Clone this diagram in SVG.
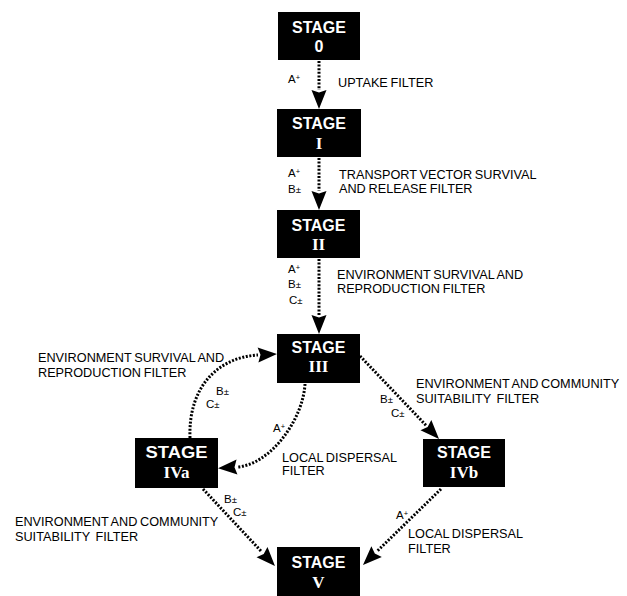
<svg xmlns="http://www.w3.org/2000/svg" width="627" height="596" viewBox="0 0 627 596">
<style>
.box{fill:#000}
.st{font-family:"Liberation Sans",Arial,sans-serif;font-weight:bold;font-size:16px;fill:#fff;text-anchor:middle}
.num{font-family:"Liberation Serif","Times New Roman",serif;font-weight:bold;font-size:17px;fill:#fff;text-anchor:middle}
.numS{font-family:"Liberation Sans",Arial,sans-serif;font-weight:bold;font-size:16px;fill:#fff;text-anchor:middle}
.lbl{font-family:"Liberation Sans",Arial,sans-serif;font-size:12.7px;fill:#000;word-spacing:-0.8px}
.sm{font-family:"Liberation Sans",Arial,sans-serif;font-size:11.5px;fill:#000}
.sup{font-size:7.5px}
.pm{font-size:9.5px}
.con{fill:none;stroke:#000;stroke-width:3;stroke-dasharray:2 1.6;marker-end:url(#ah)}
</style>
<defs>
<marker id="ah" markerUnits="userSpaceOnUse" markerWidth="22" markerHeight="16" refX="0" refY="7.5" orient="auto" overflow="visible">
<path d="M0,0 L19,7.5 L0,15 L2.5,7.5 z" fill="#000"/>
</marker>
</defs>
<rect width="627" height="596" fill="#fff"/>
<g id="connectors">
<path class="con" d="M319,61 L319,90"/>
<path class="con" d="M319,158 L319,191"/>
<path class="con" d="M319,259 L319,315"/>
<path class="con" d="M360,356 L425.9,425.2"/>
<path class="con" d="M441,489 L376.6,551.7"/>
<path class="con" d="M203,489 L262,552.1"/>
<path class="con" d="M305,384 C303,420 270,465 237,467"/>
<path class="con" d="M190,438 C188,385 220,357 258,355"/>
</g>
<g id="stage0">
<rect class="box" x="278" y="12" width="82" height="48"/>
<text class="st" x="319" y="33">STAGE</text>
<text class="numS" x="319" y="52">0</text>
</g>
<g id="stageI">
<rect class="box" x="277" y="109" width="84" height="48"/>
<text class="st" x="319" y="129">STAGE</text>
<text class="num" x="319" y="149">I</text>
</g>
<g id="stageII">
<rect class="box" x="277" y="210" width="83" height="48"/>
<text class="st" x="318.5" y="231">STAGE</text>
<text class="num" x="318.5" y="250">II</text>
</g>
<g id="stageIII">
<rect class="box" x="277" y="334" width="83" height="49"/>
<text class="st" x="318.5" y="353">STAGE</text>
<text class="num" x="318.5" y="372">III</text>
</g>
<g id="stageIVa">
<rect class="box" x="135" y="438" width="83" height="50"/>
<text class="st" x="176.5" y="458" textLength="62" lengthAdjust="spacingAndGlyphs">STAGE</text>
<text class="num" x="176.5" y="478">IVa</text>
</g>
<g id="stageIVb">
<rect class="box" x="423" y="439" width="82" height="48"/>
<text class="st" x="464" y="458">STAGE</text>
<text class="num" x="464" y="478">IVb</text>
</g>
<g id="stageV">
<rect class="box" x="277" y="547" width="83" height="49"/>
<text class="st" x="318.5" y="568">STAGE</text>
<text class="num" x="318.5" y="588">V</text>
</g>
<g id="labels">
<text class="sm" x="288" y="83">A<tspan class="sup" dy="-3">+</tspan></text>
<text class="lbl" x="338" y="87">UPTAKE FILTER</text>
<text class="sm" x="288" y="177">A<tspan class="sup" dy="-3">+</tspan></text>
<text class="sm" x="288" y="193">B<tspan class="pm">±</tspan></text>
<text class="lbl" x="339" y="179">TRANSPORT VECTOR SURVIVAL</text>
<text class="lbl" x="339" y="193">AND RELEASE FILTER</text>
<text class="sm" x="288" y="273">A<tspan class="sup" dy="-3">+</tspan></text>
<text class="sm" x="288" y="288">B<tspan class="pm">±</tspan></text>
<text class="sm" x="289" y="304">C<tspan class="pm">±</tspan></text>
<text class="lbl" x="337" y="279">ENVIRONMENT SURVIVAL AND</text>
<text class="lbl" x="337" y="293">REPRODUCTION FILTER</text>
<text class="lbl" x="38" y="362">ENVIRONMENT SURVIVAL AND</text>
<text class="lbl" x="38" y="377">REPRODUCTION FILTER</text>
<text class="sm" x="216" y="395">B<tspan class="pm">±</tspan></text>
<text class="sm" x="206" y="408">C<tspan class="pm">±</tspan></text>
<text class="sm" x="273" y="432">A<tspan class="sup" dy="-3">+</tspan></text>
<text class="lbl" x="282" y="462">LOCAL DISPERSAL</text>
<text class="lbl" x="282" y="475">FILTER</text>
<text class="lbl" x="416" y="388">ENVIRONMENT AND COMMUNITY</text>
<text class="lbl" x="416" y="403" xml:space="preserve">SUITABILITY  FILTER</text>
<text class="sm" x="380" y="403">B<tspan class="pm">±</tspan></text>
<text class="sm" x="391" y="417">C<tspan class="pm">±</tspan></text>
<text class="sm" x="224" y="503">B<tspan class="pm">±</tspan></text>
<text class="sm" x="233" y="516">C<tspan class="pm">±</tspan></text>
<text class="lbl" x="15" y="526">ENVIRONMENT AND COMMUNITY</text>
<text class="lbl" x="15" y="541" xml:space="preserve">SUITABILITY  FILTER</text>
<text class="sm" x="396" y="519">A<tspan class="sup" dy="-3">+</tspan></text>
<text class="lbl" x="408" y="538">LOCAL DISPERSAL</text>
<text class="lbl" x="408" y="553">FILTER</text>
</g>
</svg>
